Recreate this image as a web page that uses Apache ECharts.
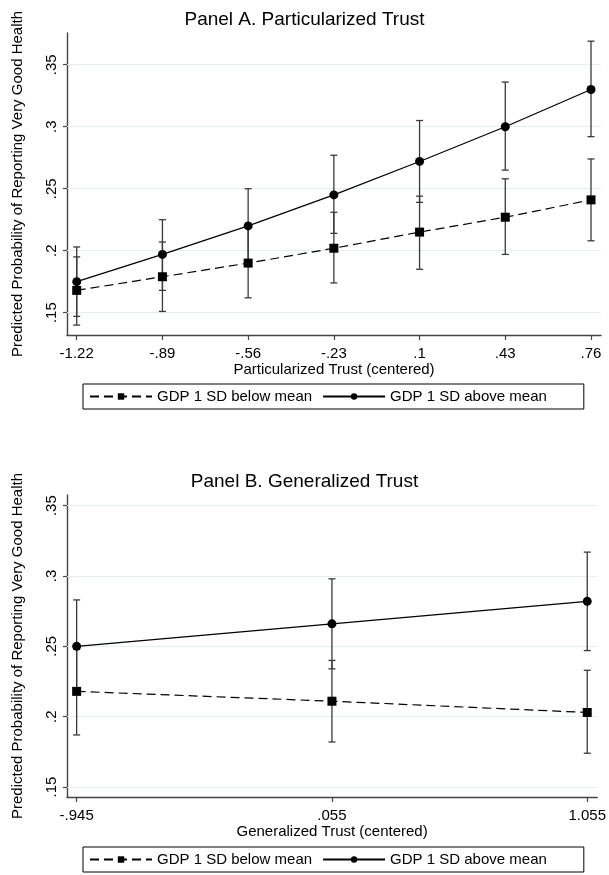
<!DOCTYPE html>
<html>
<head>
<meta charset="utf-8">
<title>Predicted probability of very good health</title>
<script src="https://cdn.jsdelivr.net/npm/echarts@6/dist/echarts.min.js"></script>
<style>
  html, body { margin: 0; padding: 0; background: #fff; }
  #chart { width: 609px; height: 875px; }
</style>
</head>
<body>
<div id="chart"></div>
<script>
// Panel A: particularized trust (centered)
const trustA = [-1.22, -0.89, -0.56, -0.23, 0.1, 0.43, 0.76];
const lowGdpA = [0.168, 0.179, 0.190, 0.202, 0.215, 0.227, 0.241];
const lowGdpALo = [0.140, 0.151, 0.162, 0.174, 0.185, 0.197, 0.208];
const lowGdpAHi = [0.195, 0.207, 0.219, 0.231, 0.244, 0.258, 0.274];
const highGdpA = [0.175, 0.197, 0.220, 0.245, 0.272, 0.300, 0.330];
const highGdpALo = [0.147, 0.168, 0.190, 0.214, 0.239, 0.265, 0.292];
const highGdpAHi = [0.203, 0.225, 0.250, 0.277, 0.305, 0.336, 0.369];

// Panel B: generalized trust (centered)
const trustB = [-0.945, 0.055, 1.055];
const lowGdpB = [0.218, 0.211, 0.203];
const lowGdpBLo = [0.187, 0.182, 0.174];
const lowGdpBHi = [0.248, 0.240, 0.233];
const highGdpB = [0.250, 0.266, 0.282];
const highGdpBLo = [0.217, 0.234, 0.247];
const highGdpBHi = [0.283, 0.298, 0.317];

const yTicks = [0.15, 0.2, 0.25, 0.3, 0.35];

const LOW = 'GDP 1 SD below mean';
const HIGH = 'GDP 1 SD above mean';
const FONT = 'Liberation Sans';
const Y_TITLE = 'Predicted Probability of Reporting Very Good Health';

// stata style numbers: .35, -.89
function fmt(v) {
  return String(+(+v).toFixed(3)).replace(/^(-?)0\./, '$1.');
}

function pairs(xs, ys) {
  return xs.map((x, i) => [x, ys[i]]);
}

function triples(xs, lo, hi) {
  return xs.map((x, i) => [x, lo[i], hi[i]]);
}

function renderCap(params, api) {
  const x = api.value(0);
  const a = api.coord([x, api.value(1)]);
  const b = api.coord([x, api.value(2)]);
  const w = 3.5;
  const style = { stroke: '#3a3a3a', lineWidth: 1.3, fill: null };
  return {
    type: 'group',
    children: [
      { type: 'line', shape: { x1: a[0], y1: a[1], x2: b[0], y2: b[1] }, style: style },
      { type: 'line', shape: { x1: a[0] - w, y1: a[1], x2: a[0] + w, y2: a[1] }, style: style },
      { type: 'line', shape: { x1: b[0] - w, y1: b[1], x2: b[0] + w, y2: b[1] }, style: style }
    ]
  };
}

function xAxisFor(idx, ticks, min, max, name) {
  return {
    gridIndex: idx, type: 'value', min: min, max: max,
    axisLine: { onZero: false, lineStyle: { color: '#444', width: 1.4 } },
    axisTick: { show: true, customValues: ticks, length: 5, lineStyle: { color: '#444', width: 1.2 } },
    axisLabel: { customValues: ticks, formatter: fmt, margin: 11, fontSize: 15, color: '#000', fontFamily: FONT },
    splitLine: { show: false },
    name: name, nameLocation: 'middle', nameGap: 27,
    nameTextStyle: { fontSize: 15, color: '#000', fontFamily: FONT }
  };
}

function yAxisFor(idx, min, max) {
  return {
    gridIndex: idx, type: 'value', min: min, max: max,
    axisLine: { show: true, onZero: false, lineStyle: { color: '#444', width: 1.4 } },
    axisTick: { show: true, customValues: yTicks, length: 4, lineStyle: { color: '#444', width: 1.2 } },
    axisLabel: { customValues: yTicks, formatter: fmt, rotate: 90, margin: 8, fontSize: 15, color: '#000', fontFamily: FONT },
    splitLine: { show: false },
    name: Y_TITLE, nameLocation: 'middle', nameGap: 42,
    nameTextStyle: { fontSize: 15, color: '#000', fontFamily: FONT }
  };
}

function panelSeries(idx, xs, low, lowLo, lowHi, high, highLo, highHi) {
  return [
    {
      name: 'ci low ' + idx, type: 'custom', xAxisIndex: idx, yAxisIndex: idx,
      renderItem: renderCap, encode: { x: 0, y: [1, 2] }, data: triples(xs, lowLo, lowHi), silent: true
    },
    {
      name: 'ci high ' + idx, type: 'custom', xAxisIndex: idx, yAxisIndex: idx,
      renderItem: renderCap, encode: { x: 0, y: [1, 2] }, data: triples(xs, highLo, highHi), silent: true
    },
    {
      name: LOW, type: 'line', xAxisIndex: idx, yAxisIndex: idx,
      data: pairs(xs, low), symbol: 'rect', symbolSize: 9,
      itemStyle: { color: '#000' },
      lineStyle: { color: '#000', width: 1.2, type: [9, 5] },
      markLine: {
        silent: true, z: 1, symbol: ['none', 'none'], label: { show: false }, animation: false,
        lineStyle: { color: '#e6eef0', width: 1.2, type: 'solid' },
        data: yTicks.map(v => ({ yAxis: v }))
      }
    },
    {
      name: HIGH, type: 'line', xAxisIndex: idx, yAxisIndex: idx,
      data: pairs(xs, high), symbol: 'circle', symbolSize: 9,
      itemStyle: { color: '#000' },
      lineStyle: { color: '#000', width: 1.2, type: 'solid' }
    }
  ];
}

function legendAt(top) {
  return {
    data: [LOW, HIGH], left: 83, top: top,
    orient: 'horizontal', itemWidth: 62, itemHeight: 8, itemGap: 10,
    padding: [5, 37, 5, 6], borderColor: '#000', borderWidth: 1,
    selectedMode: false,
    textStyle: { fontSize: 15, color: '#000', fontFamily: FONT }
  };
}

const chart = echarts.init(document.getElementById('chart'));
chart.setOption({
  animation: false,
  backgroundColor: '#fff',
  title: [
    { text: 'Panel A. Particularized Trust', left: 'center', top: 10, padding: 0,
      textStyle: { fontSize: 19, fontWeight: 'normal', color: '#000', fontFamily: FONT } },
    { text: 'Panel B. Generalized Trust', left: 'center', top: 472, padding: 0,
      textStyle: { fontSize: 19, fontWeight: 'normal', color: '#000', fontFamily: FONT } }
  ],
  legend: [legendAt(384), legendAt(847)],
  grid: [
    { left: 67, right: 8, top: 33, height: 302 },
    { left: 67, right: 8, top: 495, height: 302 }
  ],
  xAxis: [
    xAxisFor(0, trustA, -1.2574, 0.7985, 'Particularized Trust (centered)'),
    xAxisFor(1, trustB, -0.9828, 1.0939, 'Generalized Trust (centered)')
  ],
  yAxis: [
    yAxisFor(0, 0.132, 0.3756),
    yAxisFor(1, 0.1429, 0.3576)
  ],
  series: [].concat(
    panelSeries(0, trustA, lowGdpA, lowGdpALo, lowGdpAHi, highGdpA, highGdpALo, highGdpAHi),
    panelSeries(1, trustB, lowGdpB, lowGdpBLo, lowGdpBHi, highGdpB, highGdpBLo, highGdpBHi)
  )
});
</script>
</body>
</html>
